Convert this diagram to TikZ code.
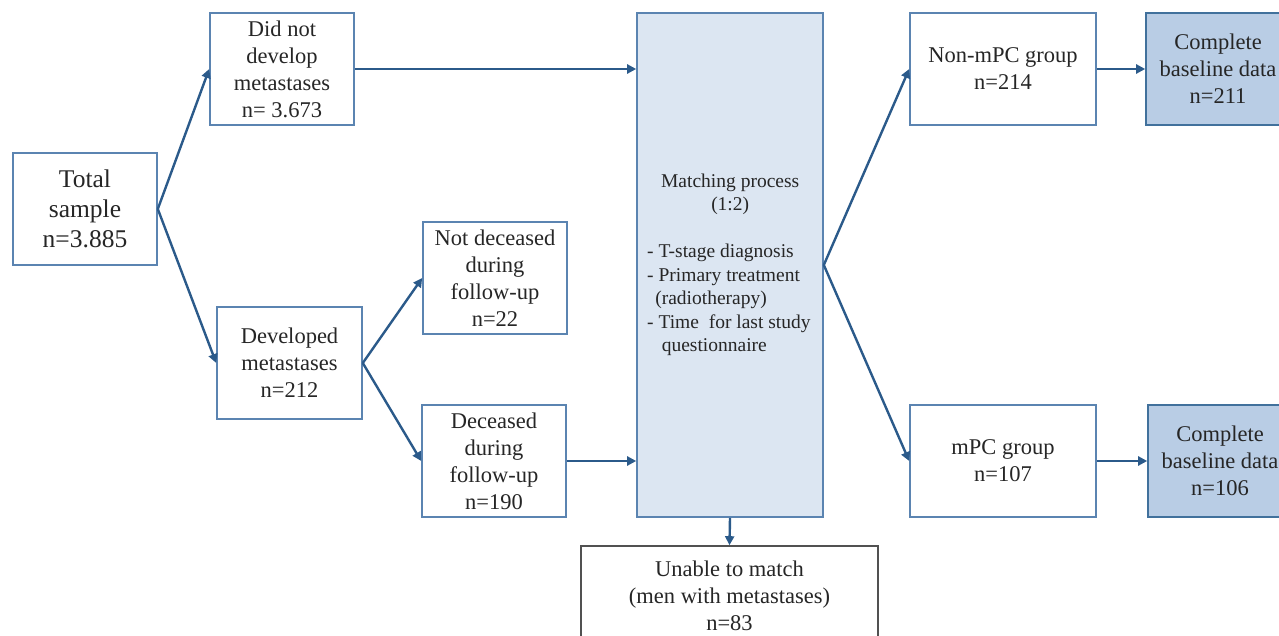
\documentclass[tikz,border=0pt]{standalone}
\usepackage{fontspec}
\setmainfont{Liberation Serif}
\usetikzlibrary{arrows.meta}
\definecolor{boxline}{HTML}{5B84B1}
\definecolor{arrowc}{HTML}{2B5A8A}
\definecolor{txt}{HTML}{262626}
\definecolor{matchfill}{HTML}{DCE6F2}
\definecolor{compfill}{HTML}{B9CDE5}
\definecolor{compline}{HTML}{41719C}
\tikzset{
  box/.style={draw=boxline, line width=1.6pt, fill=white, text=txt, align=center, inner sep=0pt,
    font=\fontsize{22.5}{27}\selectfont},
  bigbox/.style={box, font=\fontsize{25.5}{30}\selectfont},
  compbox/.style={box, draw=compline, fill=compfill},
  arr/.style={draw=arrowc, line width=2.4pt, -{Triangle[length=9pt,width=9pt]}}
}
\begin{document}
\begin{tikzpicture}[x=1pt,y=-1pt]
\useasboundingbox (0,0) rectangle (1279,636);
\node[bigbox, minimum width=144, minimum height=112] (total) at (85,209) {Total\\sample\\n=3.885};
\node[box, minimum width=144, minimum height=112] (nodev) at (282,69) {Did not\\develop\\metastases\\n= 3.673};
\node[box, minimum width=145, minimum height=112] (dev) at (289.5,363) {Developed\\metastases\\n=212};
\node[box, minimum width=144, minimum height=112] (notdec) at (495,278) {Not deceased\\during\\follow-up\\n=22};
\node[box, minimum width=144, minimum height=112] (dec) at (494,461) {Deceased\\during\\follow-up\\n=190};
\node[box, fill=matchfill, minimum width=186, minimum height=504] (match) at (730,265) {};
\node[text=txt, align=left, font=\fontsize{19.5}{23.5}\selectfont, inner sep=0pt, anchor=west] (matchtxt) at (647,265)
  {\makebox[166pt][c]{Matching process}\\\makebox[166pt][c]{(1:2)}\\[23.5pt]
   - T-stage diagnosis\\- Primary treatment\\\ \,(radiotherapy)\\- Time\ \ for last study\\\ \ \ questionnaire};
\node[box, draw=txt!80, minimum width=297, minimum height=100] (unable) at (729.5,596) {Unable to match\\(men with metastases)\\n=83};
\node[box, minimum width=186, minimum height=112] (nonmpc) at (1003,69) {Non-mPC group\\n=214};
\node[box, minimum width=186, minimum height=112] (mpc) at (1003,461) {mPC group\\n=107};
\node[compbox, minimum width=144, minimum height=112] (comp1) at (1218,69) {Complete\\baseline data\\n=211};
\node[compbox, minimum width=144, minimum height=112] (comp2) at (1220,461) {Complete\\baseline data\\n=106};
\draw[arr] (total.east) -- (nodev.west);
\draw[arr] (total.east) -- (dev.west);
\draw[arr] (dev.east) -- (notdec.west);
\draw[arr] (dev.east) -- (dec.west);
\draw[arr] (nodev.east) -- (nodev.east -| match.west);
\draw[arr] (dec.east) -- (dec.east -| match.west);
\draw[arr] (match.east) -- (nonmpc.west);
\draw[arr] (match.east) -- (mpc.west);
\draw[arr] (nonmpc.east) -- (comp1.west);
\draw[arr] (mpc.east) -- (comp2.west);
\draw[arr] (match.south) -- (unable.north);
\end{tikzpicture}
\end{document}
